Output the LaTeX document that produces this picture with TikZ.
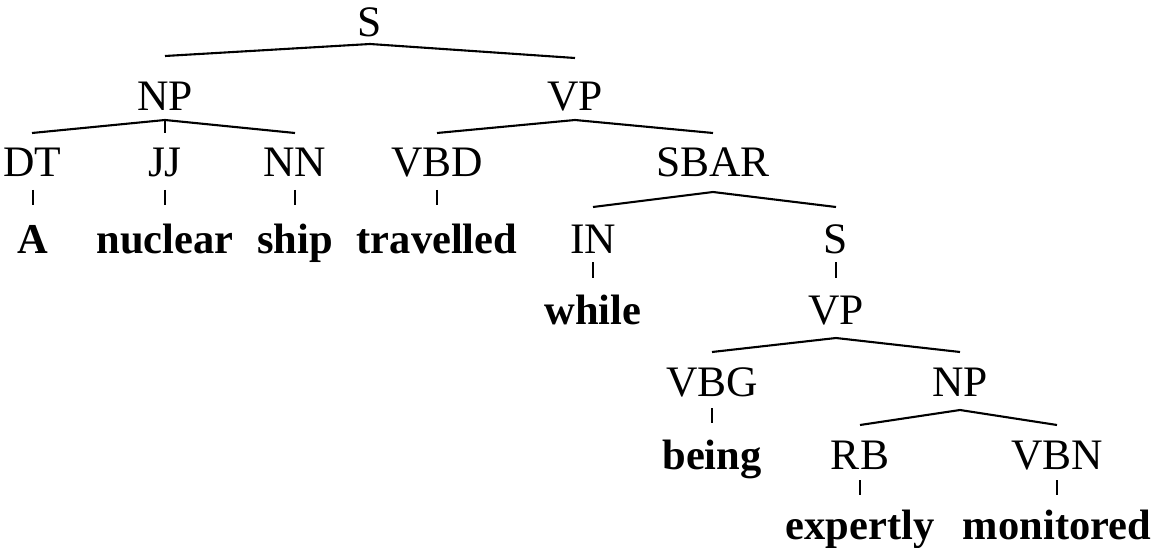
\documentclass[tikz,border=0pt]{standalone}
\usepackage{fontspec}
\setmainfont{Liberation Serif}
\usetikzlibrary{calc}
\begin{document}
\begin{tikzpicture}[x=1pt,y=-1pt,
  lab/.style={anchor=base,inner sep=0pt,font=\fontsize{43.5}{50}\selectfont},
  wd/.style={anchor=base,inner sep=0pt,font=\fontsize{42.5}{50}\selectfont\bfseries},
  br/.style={line width=2.1pt},
  tk/.style={line width=1.2pt}]
\useasboundingbox (0,0) rectangle (1153,548);
% category labels
\node[lab] (s)    at (370,37)  {S};
\node[lab] (np)   at (165,111) {NP};
\node[lab] (vp)   at (575,111) {VP};
\node[lab] (dt)   at (32,177)  {DT};
\node[lab] (jj)   at (165,177) {JJ};
\node[lab] (nn)   at (295,177) {NN};
\node[lab] (vbd)  at (437,177) {VBD};
\node[lab] (sbar) at (713,177) {SBAR};
\node[lab] (in)   at (593,253) {IN};
\node[lab] (s2)   at (836,253) {S};
\node[lab] (vp2)  at (836,324) {VP};
\node[lab] (vbg)  at (712,396) {VBG};
\node[lab] (np2)  at (960,396) {NP};
\node[lab] (rb)   at (860,469) {RB};
\node[lab] (vbn)  at (1057,469) {VBN};
% words
\node[wd] (wa)    at (33,253)  {A};
\node[wd] (wnuc)  at (165,253) {nuclear};
\node[wd] (wship) at (295,253) {ship};
\node[wd] (wtrav) at (437,253) {travelled};
\node[wd] (wwhile) at (593,324) {while};
\node[wd] (wbeing) at (712,469) {being};
\node[wd] (wexp)  at (860,539) {expertly};
\node[wd] (wmon)  at (1057,539) {monitored};
% branches
\draw[br] ($(np.base)+(0,-55)$) -- ($(s.base)+(0,7)$) -- ($(vp.base)+(0,-53)$);
\draw[br] ($(dt.base)+(0,-44)$) -- ($(np.base)+(0,9)$) -- ($(nn.base)+(0,-44)$);
\draw[tk] ($(np.base)+(0,9)$) -- ($(jj.base)+(0,-44)$);
\draw[br] ($(vbd.base)+(0,-44)$) -- ($(vp.base)+(0,9)$) -- ($(sbar.base)+(0,-44)$);
\draw[br] ($(in.base)+(0,-46)$) -- ($(sbar.base)+(0,15)$) -- ($(s2.base)+(0,-46)$);
\draw[br] ($(vbg.base)+(0,-44)$) -- ($(vp2.base)+(0,14)$) -- ($(np2.base)+(0,-44)$);
\draw[br] ($(rb.base)+(0,-44)$) -- ($(np2.base)+(0,14)$) -- ($(vbn.base)+(0,-44)$);
% unary links
\draw[tk] ($(dt.base)+(1,13)$) -- ($(wa.base)+(0,-48)$);
\draw[tk] ($(jj.base)+(0,13)$) -- ($(wnuc.base)+(0,-48)$);
\draw[tk] ($(nn.base)+(0,13)$) -- ($(wship.base)+(0,-48)$);
\draw[tk] ($(vbd.base)+(0,13)$) -- ($(wtrav.base)+(0,-48)$);
\draw[tk] ($(in.base)+(0,9)$) -- ($(wwhile.base)+(0,-46)$);
\draw[tk] ($(s2.base)+(0,9)$) -- ($(vp2.base)+(0,-46)$);
\draw[tk] ($(vbg.base)+(0,12)$) -- ($(wbeing.base)+(0,-46)$);
\draw[tk] ($(rb.base)+(0,11)$) -- ($(wexp.base)+(0,-44)$);
\draw[tk] ($(vbn.base)+(0,11)$) -- ($(wmon.base)+(0,-44)$);
\end{tikzpicture}
\end{document}
